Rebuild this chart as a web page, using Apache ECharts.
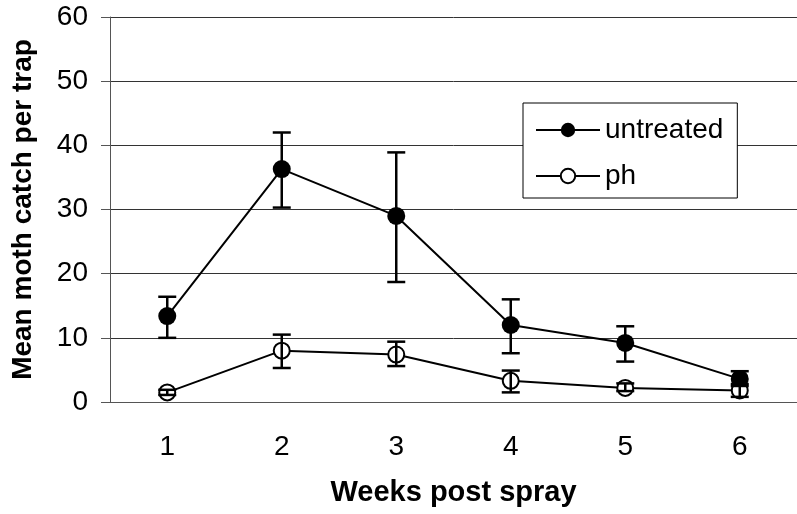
<!DOCTYPE html>
<html>
<head>
<meta charset="utf-8">
<script src="https://cdn.jsdelivr.net/npm/echarts@6/dist/echarts.min.js"></script>
<style>
  html, body { margin: 0; padding: 0; background: #fff; }
  #main { width: 797px; height: 514px; }
</style>
</head>
<body>
<div id="main"></div>
<script>
const weeks = ["1", "2", "3", "4", "5", "6"];
const untreatedMean = [13.4, 36.3, 29.0, 12.0, 9.2, 3.6];
const untreatedLow = [10.0, 30.3, 18.7, 7.6, 6.3, 2.5];
const untreatedHigh = [16.4, 42.0, 38.9, 16.0, 11.8, 4.8];
const phMean = [1.5, 8.0, 7.4, 3.3, 2.2, 1.8];
const phLow = [1.1, 5.3, 5.6, 1.5, 1.7, 0.8];
const phHigh = [1.9, 10.5, 9.4, 4.9, 2.9, 2.8];
const yTicks = { min: 0, max: 60, interval: 10 };

const font = "Liberation Sans";

function errorData(low, high) {
  return low.map((l, i) => [i, l, high[i]]);
}

function renderErrorBar(params, api) {
  const x = api.value(0);
  const top = api.coord([x, api.value(2)]);
  const bot = api.coord([x, api.value(1)]);
  const hw = 9;
  const style = { stroke: "#000", lineWidth: 2.5 };
  return {
    type: "group",
    children: [
      { type: "line", shape: { x1: top[0], y1: top[1], x2: bot[0], y2: bot[1] }, style },
      { type: "line", shape: { x1: top[0] - hw, y1: top[1], x2: top[0] + hw, y2: top[1] }, style },
      { type: "line", shape: { x1: bot[0] - hw, y1: bot[1], x2: bot[0] + hw, y2: bot[1] }, style }
    ]
  };
}

var myChart = echarts.init(document.getElementById("main"));
myChart.setOption({
  animation: false,
  backgroundColor: "#fff",
  textStyle: { fontFamily: font, color: "#000" },
  grid: { left: 110, right: -10, top: 17, bottom: 112 },
  legend: {
    orient: "vertical",
    left: 523,
    top: 103,
    padding: [13, 14, 8, 12],
    itemGap: 18,
    itemWidth: 64,
    itemHeight: 18,
    backgroundColor: "#fff",
    borderColor: "#000",
    borderWidth: 1,
    textStyle: { fontFamily: font, fontSize: 28, color: "#000" },
    data: ["untreated", "ph"]
  },
  xAxis: {
    type: "category",
    data: weeks,
    boundaryGap: true,
    name: "Weeks post spray",
    nameLocation: "middle",
    nameGap: 91,
    nameTextStyle: { fontFamily: font, fontSize: 29, fontWeight: "bold", color: "#000", verticalAlign: "middle" },
    axisLine: { lineStyle: { color: "#555", width: 1 } },
    axisTick: { length: 8, lineStyle: { color: "#555" } },
    axisLabel: { fontFamily: font, fontSize: 28, color: "#000", margin: 31 },
    splitLine: { show: false }
  },
  yAxis: {
    type: "value",
    min: yTicks.min,
    max: yTicks.max,
    interval: yTicks.interval,
    name: "Mean moth catch per trap",
    nameLocation: "middle",
    nameGap: 87,
    nameTextStyle: { fontFamily: font, fontSize: 28, fontWeight: "bold", color: "#000", verticalAlign: "middle" },
    axisLine: { show: true, lineStyle: { color: "#555", width: 1 } },
    axisTick: { show: true, length: 9, lineStyle: { color: "#555" } },
    axisLabel: { fontFamily: font, fontSize: 28, color: "#000", margin: 22 },
    splitLine: { lineStyle: { color: "#333", width: 1 } }
  },
  series: [
    {
      name: "untreated",
      type: "line",
      data: untreatedMean,
      symbol: "circle",
      symbolSize: 18,
      lineStyle: { color: "#000", width: 2 },
      itemStyle: { color: "#000" },
      z: 2
    },
    {
      name: "ph",
      type: "line",
      data: phMean,
      symbol: "circle",
      symbolSize: 16,
      lineStyle: { color: "#000", width: 2 },
      itemStyle: { color: "#fff", borderColor: "#000", borderWidth: 2 },
      z: 2
    },
    {
      name: "untreated err",
      type: "custom",
      renderItem: renderErrorBar,
      data: errorData(untreatedLow, untreatedHigh),
      z: 3
    },
    {
      name: "ph err",
      type: "custom",
      renderItem: renderErrorBar,
      data: errorData(phLow, phHigh),
      z: 3
    }
  ]
});
</script>
</body>
</html>
